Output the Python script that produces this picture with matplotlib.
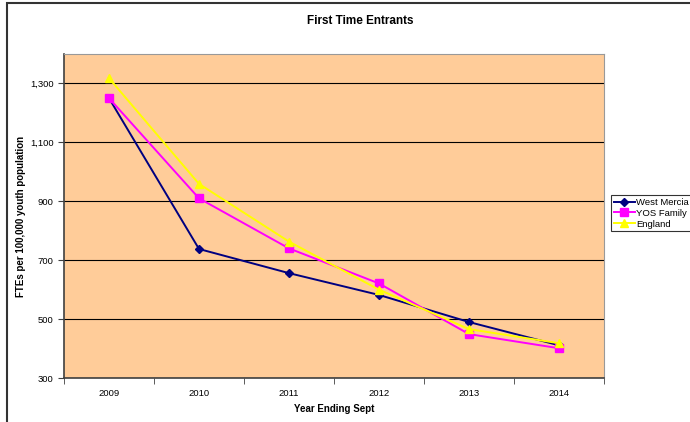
import matplotlib
matplotlib.use("Agg")

import matplotlib.pyplot as plt
from matplotlib.patches import Rectangle
from matplotlib.ticker import FixedLocator, FuncFormatter

plt.rcParams["font.family"] = ["Liberation Sans", "DejaVu Sans"]

years = ["2009", "2010", "2011", "2012", "2013", "2014"]
west_mercia = [1250, 738, 656, 582, 490, 411]
yos_family = [1250, 910, 740, 621, 449, 401]
england = [1318, 959, 763, 600, 466, 418]

y_ticks = [300, 500, 700, 900, 1100, 1300]

fig = plt.figure(figsize=(6.9, 4.22), dpi=100)
ax = fig.add_axes([64 / 690, 44 / 422, 540 / 690, 324 / 422])
ax.set_facecolor("#FFCC99")

x = list(range(len(years)))
ax.plot(x, west_mercia, color="#000080", marker="D", markersize=4, lw=1.4, label="West Mercia")
ax.plot(x, yos_family, color="#FF00FF", marker="s", markersize=6, lw=1.4, label="YOS Family")
ax.plot(x, england, color="#FFFF00", marker="^", markersize=6, lw=1.4, label="England")

ax.set_xlim(-0.5, len(years) - 0.5)
ax.set_ylim(300, 1400)
ax.set_yticks(y_ticks)
ax.yaxis.set_major_formatter(FuncFormatter(lambda v, _: f"{int(v):,}"))
ax.grid(axis="y", color="black", lw=0.8)
ax.set_axisbelow(True)

# category labels centred, tick marks between categories
ax.set_xticks(x)
ax.set_xticklabels(years)
ax.tick_params(axis="x", length=0, labelsize=6.8, pad=8)
ax.xaxis.set_minor_locator(FixedLocator([i - 0.5 for i in range(len(years) + 1)]))
ax.tick_params(axis="x", which="minor", length=4, color="#404040")
ax.tick_params(axis="y", length=4, color="#404040", labelsize=6.8)

for side in ["top", "right"]:
    ax.spines[side].set_color("#999999")
for side in ["left", "bottom"]:
    ax.spines[side].set_color("#404040")
    ax.spines[side].set_linewidth(1.2)

ax.set_xlabel("Year Ending Sept", fontsize=7, fontweight="bold", labelpad=4)
ax.set_ylabel("FTEs per 100,000 youth population", fontsize=7, fontweight="bold", labelpad=3)
fig.text(360 / 690, 1 - 21 / 422, "First Time Entrants", ha="center", va="center",
         fontsize=8.5, fontweight="bold")

leg = ax.legend(loc="upper left", bbox_to_anchor=(611 / 690, 1 - 195 / 422),
                bbox_transform=fig.transFigure, frameon=True, fancybox=False,
                fontsize=6.8, borderpad=0.3, labelspacing=0.2, handlelength=2.2,
                handletextpad=0.2, borderaxespad=0)
leg.get_frame().set_edgecolor("black")
leg.get_frame().set_linewidth(0.8)

# outer chart border (cut off at the right and bottom in the original)
fig.patches.append(Rectangle((7 / 690, -0.1), 1.2, 1 - 3 / 422 + 0.1,
                             transform=fig.transFigure, fill=False,
                             edgecolor="#333333", lw=1.5, clip_on=False))

fig.savefig("out.png", dpi=100)
